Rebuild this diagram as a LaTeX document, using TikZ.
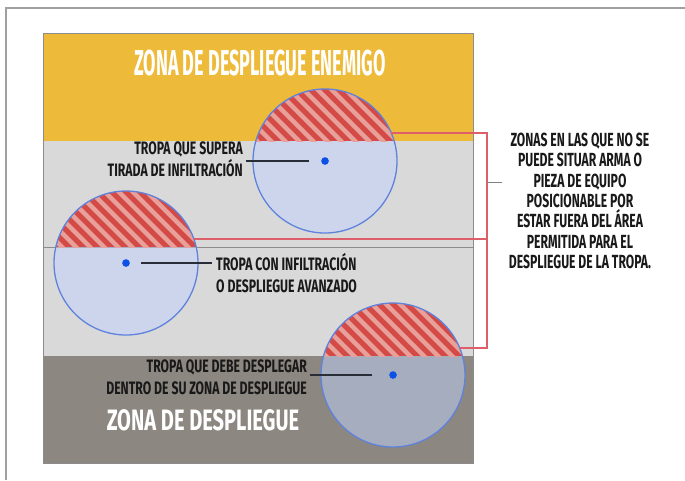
\documentclass[tikz,border=0pt]{standalone}
\usepackage{fontspec}
\usepackage{tikz}
\usetikzlibrary{positioning}
\newfontfamily\titlefont{Fira Sans}[FakeStretch=0.50]
\newfontfamily\labelfont{Fira Sans}[FakeStretch=0.68]
\newfontfamily\sidefont{Fira Sans}[FakeStretch=0.64]

\definecolor{zoneyellow}{RGB}{237,186,58}
\definecolor{zonelight}{RGB}{217,217,217}
\definecolor{zonedark}{RGB}{140,135,128}
\definecolor{rangeblue}{RGB}{193,211,255}
\definecolor{rangeedge}{RGB}{95,130,220}
\definecolor{dotblue}{RGB}{12,80,230}
\definecolor{hatchred}{RGB}{212,74,70}
\definecolor{hatchpink}{RGB}{232,160,155}
\definecolor{bracketred}{RGB}{222,95,105}
\definecolor{leaderdark}{RGB}{40,45,55}
\definecolor{framegray}{RGB}{160,160,160}

% hatched cap of a range circle: centre x, centre y, cut line y
\newcommand{\hatchcap}[3]{%
  \begin{scope}
    \clip (#1,#2) circle[radius=72pt];
    \clip (#1-80,#2-80) rectangle (#1+80,#3);
    \fill[hatchred] (#1-80,#2-80) rectangle (#1+80,#3);
    \foreach \s in {-170,-156,...,100}
      \draw[hatchpink, line width=4.5pt] (#1+\s,#2-80) -- ++(160,160);
  \end{scope}}

\begin{document}
\begin{tikzpicture}[x=1pt, y=-1pt,
    rangecircle/.style={draw=rangeedge, line width=1.3pt},
    troopdot/.style={circle, fill=dotblue, inner sep=0pt, minimum size=7.5pt},
    leader/.style={draw=leaderdark, line width=1.8pt},
    bracket/.style={draw=bracketred, line width=1.5pt},
    zonetitle/.style={text=white, inner sep=0pt, font=\titlefont\bfseries\fontsize{36}{38}\selectfont},
    troopnote/.style={text=black!90, inner sep=0pt, font=\labelfont\bfseries\fontsize{18}{22}\selectfont},
    sidenote/.style={text=black!90, inner sep=0pt, align=center, font=\sidefont\bfseries\fontsize{19}{20.3}\selectfont}
  ]
  \useasboundingbox (0,0) rectangle (685,480);

  % page frame
  \coordinate (fa) at (6,480);
  \coordinate (fb) at (6,8);
  \coordinate (fc) at (685,8);
  \draw[framegray, line width=2pt] (fa) -- (fb) -- (fc);

  % deployment zones
  \fill[zoneyellow] (43,33) rectangle (473,141);
  \fill[zonelight] (43,141) rectangle (473,356);
  \fill[zonedark] (43,356) rectangle (473,463);
  \draw[black!45, line width=0.8pt] (43,247) -- (473,247);
  \draw[black!45, line width=1pt] (43,33) rectangle (473,463);

  % troops and their ranges
  \node[troopdot] (t1) at (325,161) {};
  \node[troopdot] (t2) at (126,263) {};
  \node[troopdot] (t3) at (393,375) {};
  \foreach \t in {t1,t2,t3}
    \fill[rangeblue, opacity=0.5] (\t) circle[radius=72pt];
  \hatchcap{325}{161}{141}
  \hatchcap{126}{263}{247}
  \hatchcap{393}{375}{356}
  \foreach \t in {t1,t2,t3} {
    \draw[rangecircle] (\t) circle[radius=72pt];
    \node[troopdot] at (\t) {};
  }

  % zone titles
  \node[zonetitle] (enemy) at (260,63) {ZONA DE DESPLIEGUE ENEMIGO};
  \node[zonetitle, font=\labelfont\bfseries\fontsize{29.5}{31}\selectfont] (own) at (203,420) {ZONA DE DESPLIEGUE};

  % troop notes
  \node[troopnote, anchor=east, align=right] (n1) at (243,159) {TROPA QUE SUPERA\\TIRADA DE INFILTRACIÓN};
  \node[troopnote, anchor=west, align=left] (n2) at (216,273) {TROPA CON INFILTRACIÓN\\O DESPLIEGUE AVANZADO};
  \node[troopnote, anchor=east, align=right] (n3) at (307,377) {TROPA QUE DEBE DESPLEGAR\\DENTRO DE SU ZONA DE DESPLIEGUE};
  \draw[leader, shorten <=3pt, shorten >=12pt] (t1 -| n1.east) -- (t1);
  \draw[leader, shorten <=11pt, shorten >=4pt] (t2) -- (t2 -| n2.west);
  \draw[leader, shorten <=3pt, shorten >=17pt] (t3 -| n3.east) -- (t3);

  % bracket of forbidden caps
  \coordinate (b1) at (391,133);
  \coordinate (b2) at (194,239);
  \coordinate (b3) at (460,348);
  \coordinate (bt) at (487,133);
  \coordinate (bm) at (487,239);
  \coordinate (bb) at (487,348);
  \coordinate (bk) at (487,182);
  \coordinate (tk) at (502,182);
  \draw[bracket] (b1) -- (bt) -- (bb) -- (b3);
  \draw[bracket] (b2) -- (bm);
  \draw[black!50, line width=1pt] (bk) -- (tk);

  \node[sidenote] (forbidden) at (580,201) {ZONAS EN LAS QUE NO SE\\PUEDE SITUAR ARMA O\\PIEZA DE EQUIPO\\POSICIONABLE POR\\ESTAR FUERA DEL ÁREA\\PERMITIDA PARA EL\\DESPLIEGUE DE LA TROPA.};
\end{tikzpicture}
\end{document}
